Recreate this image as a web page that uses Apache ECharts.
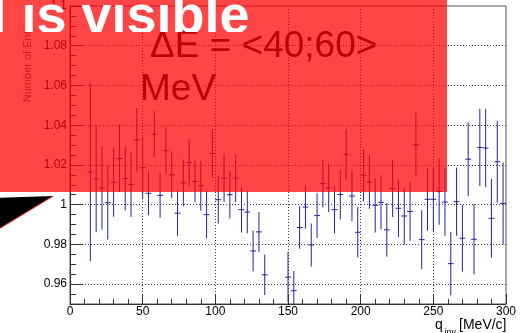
<!DOCTYPE html>
<html>
<head>
<meta charset="utf-8">
<script src="https://cdn.jsdelivr.net/npm/echarts@6/dist/echarts.min.js"></script>
<style>
  html, body { margin: 0; padding: 0; background: #fff; }
  #chart { width: 528px; height: 333px; }
</style>
</head>
<body>
<div id="chart"></div>
<script>
// Correlation ratio per q_inv bin (bin width 4 MeV/c) with statistical errors
const binWidth = 4;
const qCenters = [
  14, 18, 22, 26, 30, 34, 38, 42, 46, 50,
  54, 58, 62, 66, 70, 74, 78, 82, 86, 90,
  94, 98, 102, 106, 110, 114, 118, 122, 126, 130,
  134,
  150, 154, 158, 162, 166, 170, 174, 178, 182, 186,
  190, 194, 198, 202, 206, 210, 214, 218, 222, 226,
  230, 234, 238, 242, 246, 250, 254, 258, 262, 266,
  270, 274, 278, 282, 286, 290, 294, 298
];
const ratio = [
  1.0165, 1.0129, 1.0084, 1.0010, 1.0112, 1.0232, 1.0132, 1.0102, 1.0327, 1.0187,
  1.0057, 1.0355, 1.0047, 1.0272, 1.0150, 0.9957, 1.0110, 1.0212, 1.0117, 1.0095,
  0.9950, 1.0258, 1.0025, 1.0133, 1.0050, 1.0133, 0.9975, 0.9963, 0.9767, 0.9863,
  0.9647,
  0.9635, 0.9567, 0.9885, 0.9988, 0.9797, 0.9945, 1.0106, 1.0085, 0.9975, 1.0051,
  1.0253, 1.0044, 0.9861, 1.0148, 1.0114, 0.9997, 1.0012, 0.9873, 1.0081, 0.9982,
  0.9943, 0.9966, 1.0302, 0.9824, 1.0027, 1.0027, 1.0066, 1.0013, 0.9703, 1.0015,
  0.9831, 1.0229, 0.9826, 1.0288, 1.0285, 0.9931, 1.0216, 1.0006
];
const ratioErr = [
  0.0450, 0.0268, 0.0210, 0.0186, 0.0173, 0.0169, 0.0160, 0.0164, 0.0160, 0.0156,
  0.0110, 0.0117, 0.0113, 0.0117, 0.0117, 0.0114, 0.0118, 0.0120, 0.0105, 0.0125,
  0.0120, 0.0122, 0.0120, 0.0120, 0.0120, 0.0120, 0.0115, 0.0107, 0.0103, 0.0100,
  0.0102,
  0.0127, 0.0100, 0.0107, 0.0110, 0.0108, 0.0112, 0.0120, 0.0122, 0.0120, 0.0125,
  0.0127, 0.0127, 0.0127, 0.0131, 0.0135, 0.0137, 0.0137, 0.0135, 0.0143, 0.0145,
  0.0144, 0.0148, 0.0160, 0.0148, 0.0158, 0.0163, 0.0167, 0.0170, 0.0160, 0.0172,
  0.0168, 0.0186, 0.0177, 0.0195, 0.0197, 0.0198, 0.0206, 0.0207
];

// Axis ranges and tick labels
const xRange = [0, 300];
const yRange = [0.95, 1.1];
const yMajorTicks = [0.96, 0.98, 1.00, 1.02, 1.04, 1.06, 1.08, 1.10];
const xGridLines = [50, 100, 150, 200, 250];
const yTitle = 'Number of Entries';
const xTitleMain = 'q';
const xTitleSub = 'inv';
const xTitleUnit = '[MeV/c]';
const energyLines = ['\u0394E = <40;60>', 'MeV'];
const bannerText = 'l is visible';

const FONT = '"Liberation Sans", Arial, Helvetica, sans-serif';
const BAR_COLOR = '#2424a4';
const AXIS_COLOR = '#333';

const points = qCenters.map((q, i) => [q, ratio[i], ratioErr[i]]);

// Place text by its alphabetic baseline (zrender draws with a "middle" baseline)
function textAt(str, x, baseline, size, extra) {
  const mid = baseline - 0.3465 * size;
  return Object.assign({
    type: 'text',
    x: x,
    y: mid,
    style: Object.assign({
      text: str,
      font: size + 'px ' + FONT,
      fill: '#000',
      align: 'left',
      textAlign: 'left',
      verticalAlign: 'middle',
      textVerticalAlign: 'middle'
    }, (extra && extra.style) || {})
  }, extra ? { z: extra.z, rotation: extra.rotation } : {});
}

const chart = echarts.init(document.getElementById('chart'), null, { renderer: 'canvas' });

const option = {
  animation: false,
  backgroundColor: '#fff',
  grid: [
    { left: 70, right: 22, top: 5, bottom: 29, show: true, borderColor: '#555', borderWidth: 1, backgroundColor: 'transparent', z: 0 },
    { left: 0, right: 0, top: 0, height: 32, show: false }
  ],
  xAxis: [
    {
      gridIndex: 0, type: 'value', min: xRange[0], max: xRange[1], interval: 50,
      axisLine: { show: true, lineStyle: { color: AXIS_COLOR, width: 1 } },
      axisTick: { show: true, inside: true, length: 10, lineStyle: { color: AXIS_COLOR } },
      minorTick: { show: true, splitNumber: 5, length: 5, lineStyle: { color: AXIS_COLOR } },
      axisLabel: { margin: 2, fontSize: 12, fontFamily: FONT, color: '#000' },
      splitLine: { show: false }
    },
    { gridIndex: 1, type: 'value', min: 0, max: 1, show: false }
  ],
  yAxis: [
    {
      gridIndex: 0, type: 'value', position: 'left', min: yRange[0], max: yRange[1], interval: 0.005,
      axisLine: { show: true, lineStyle: { color: AXIS_COLOR, width: 1 } },
      axisTick: { show: true, inside: true, length: 6, lineStyle: { color: AXIS_COLOR } },
      axisLabel: { show: false },
      splitLine: { show: false }
    },
    {
      gridIndex: 0, type: 'value', position: 'left', min: yRange[0], max: yRange[1],
      axisLine: { show: false },
      axisTick: { show: true, inside: true, length: 12, customValues: yMajorTicks, lineStyle: { color: AXIS_COLOR } },
      axisLabel: {
        show: true, margin: 3, fontSize: 12, fontFamily: FONT, color: '#000',
        customValues: yMajorTicks,
        formatter: v => String(Math.round(v * 100) / 100)
      },
      splitLine: { show: false }
    },
    { gridIndex: 1, type: 'value', min: 0, max: 1, show: false }
  ],
  series: [
    {
      // dotted grid lines at the major ticks
      type: 'line', xAxisIndex: 0, yAxisIndex: 0, data: [], silent: true, z: 1,
      markLine: {
        silent: true, symbol: ['none', 'none'], label: { show: false },
        lineStyle: { color: '#333', width: 1, type: [1, 2] },
        data: xGridLines.map(v => ({ xAxis: v })).concat(
          yMajorTicks.filter(v => v < yRange[1]).map(v => ({ yAxis: v })))
      }
    },
    {
      // error bars: vertical stat error, horizontal bin width
      type: 'custom', xAxisIndex: 0, yAxisIndex: 0, clip: true, z: 3,
      data: points,
      renderItem: (params, api) => {
        const q = api.value(0), r = api.value(1), e = api.value(2);
        const top = api.coord([q, r + e]);
        const bot = api.coord([q, r - e]);
        const lft = api.coord([q - binWidth / 2, r]);
        const rgt = api.coord([q + binWidth / 2, r]);
        const style = { stroke: BAR_COLOR, lineWidth: 1 };
        return {
          type: 'group',
          children: [
            { type: 'line', shape: { x1: top[0], y1: top[1], x2: bot[0], y2: bot[1] }, style: style },
            { type: 'line', shape: { x1: lft[0], y1: lft[1], x2: rgt[0], y2: rgt[1] }, style: style }
          ]
        };
      }
    },
    {
      // white banner caption, cut to the top strip
      type: 'custom', xAxisIndex: 1, yAxisIndex: 2, clip: true, z: 100, silent: true,
      data: [[0, 0]],
      renderItem: (params) => {
        const cs = params.coordSys;
        return textAt(bannerText, cs.x - 8.6, cs.y + 37.3, 54, {
          style: { font: 'bold 54px ' + FONT, fill: '#fff' }
        });
      }
    }
  ],
  graphic: [
    textAt(energyLines[0], 150, 60, 37, { z: 10 }),
    textAt(energyLines[1], 140, 102.5, 37, { z: 10 }),
    textAt(yTitle, 27.5, 106, 11, { z: 10, rotation: Math.PI / 2, style: { fill: '#555', verticalAlign: 'middle' } }),
    textAt(xTitleMain, 435, 330, 14, { z: 10 }),
    textAt(xTitleSub, 444.5, 336, 9, { z: 10 }),
    textAt(xTitleUnit, 506.5, 330, 14, { z: 10, style: { align: 'right', textAlign: 'right' } }),
    {
      type: 'rect', z: 50, silent: true,
      shape: { x: 0, y: 0, width: 447, height: 192 },
      style: { fill: 'rgba(255,0,0,0.73)' }
    },
    {
      type: 'polygon', z: 60, silent: true,
      shape: { points: [[0, 197.7], [53.3, 196], [0, 228.3]] },
      style: { fill: '#000' }
    },
    {
      type: 'polyline', z: 61, silent: true,
      shape: { points: [[53.3, 196], [0, 228.3]] },
      style: { stroke: '#ff2020', lineWidth: 1, fill: null }
    }
  ]
};

chart.setOption(option);
</script>
</body>
</html>
